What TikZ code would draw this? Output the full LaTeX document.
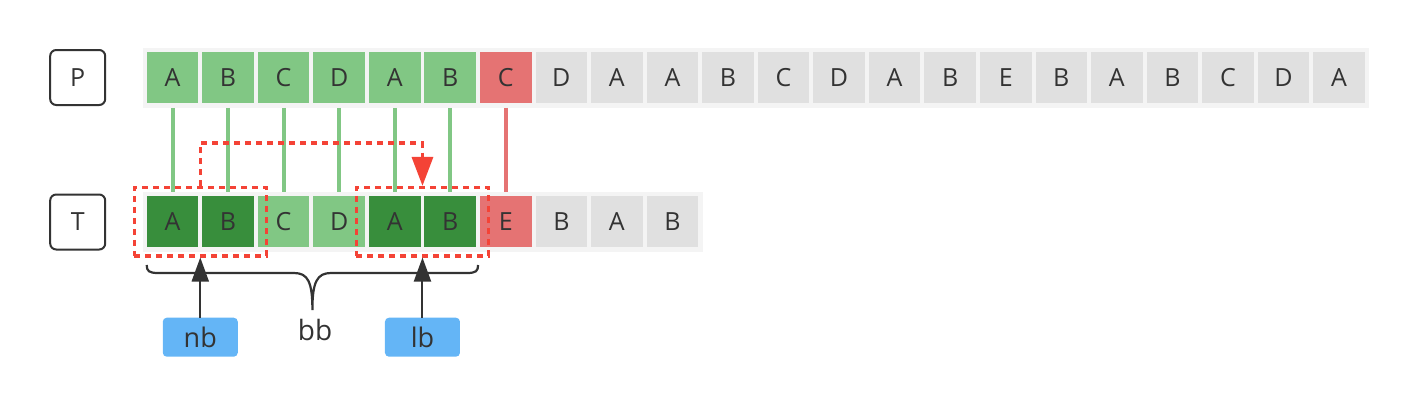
\documentclass[tikz,border=0pt]{standalone}
\usepackage{fontspec}
\setmainfont{Open Sans}
\usetikzlibrary{positioning,arrows.meta,fit,calc}

\definecolor{lgreen}{HTML}{81C784}
\definecolor{dgreen}{HTML}{388E3C}
\definecolor{lred}{HTML}{E57373}
\definecolor{cgray}{HTML}{E0E0E0}
\definecolor{stripgray}{HTML}{F4F4F4}
\definecolor{textgray}{HTML}{333333}
\definecolor{hitred}{HTML}{F44336}
\definecolor{ptrblue}{HTML}{64B5F6}

\begin{document}
\begin{tikzpicture}[
  x=1pt, y=-1pt,
  every node/.style={text=textgray, font=\fontsize{25}{30}\selectfont},
  cell/.style={fill=#1, minimum width=51.6pt, minimum height=51.3pt, inner sep=0pt, outer sep=0pt},
  strip/.style={fill=stripgray, inner sep=0pt, outer sep=0pt},
  tag/.style={draw=textgray, line width=2pt, rounded corners=6pt, fill=white, minimum width=55pt, minimum height=55pt},
  link/.style={line width=4pt, draw=#1, shorten <=4.4pt, shorten >=4.4pt},
  hit/.style={draw=hitred, line width=3.3pt, dash pattern=on 6pt off 5pt, inner xsep=12.5pt, inner ysep=8.5pt},
  jump/.style={draw=hitred, line width=3.3pt, dash pattern=on 6pt off 5pt, -{Triangle[length=29pt,width=21pt]}},
  ptr/.style={fill=ptrblue, rounded corners=4pt, minimum width=75pt, minimum height=39pt, font=\fontsize{27}{30}\selectfont},
  up/.style={-{Triangle[length=24pt,width=17pt]}, line width=2pt, draw=textgray},
  brace/.style={draw=textgray, line width=2.2pt}
]
\useasboundingbox (0,0) rectangle (1417,405);

% labels
\node[tag] (P) at (77.7,77.5) {P};
\node[tag, below=87.5pt of P] (T) {T};

% background strips
\node[strip, minimum width=1226.3pt, minimum height=59.7pt] (pstrip) at (755.9,77.9) {};
\node[strip, minimum width=560.3pt, minimum height=60pt] (tstrip) at (422.9,221.7) {};

% pattern row
\foreach \l/\c [count=\i] in {A/lgreen,B/lgreen,C/lgreen,D/lgreen,A/lgreen,B/lgreen,C/lred,D/cgray,A/cgray,A/cgray,B/cgray,C/cgray,D/cgray,A/cgray,B/cgray,E/cgray,B/cgray,A/cgray,B/cgray,C/cgray,D/cgray,A/cgray}
  \node[cell=\c] (p\i) at ({172.5+55.55*(\i-1)},77.7) {\l};

% text row
\foreach \l/\c [count=\i] in {A/dgreen,B/dgreen,C/lgreen,D/lgreen,A/dgreen,B/dgreen,E/lred,B/cgray,A/cgray,B/cgray}
  \node[cell=\c] (t\i) at ({172.5+55.55*(\i-1)},221.7) {\l};

% matches
\foreach \i in {1,...,6}
  \draw[link=lgreen] (p\i.south) -- (t\i.north);
\draw[link=lred] (p7.south) -- (t7.north);

% borders
\node[hit, fit=(t1)(t2)] (nbox) {};
\node[hit, fit=(t5)(t6)] (lbox) {};
\draw[jump] (nbox.north) -- ++(0,-43) -| (lbox.north);

% brace
\draw[brace] (146.7,265) .. controls (146.7,271) and (149,273) .. (158,273) -- (294,273)
  .. controls (308,273) and (312.4,282) .. (312.4,310)
  .. controls (312.4,282) and (317,273) .. (331,273) -- (467,273)
  .. controls (476,273) and (478.1,271) .. (478.1,265);
\node[font=\fontsize{28}{30}\selectfont] (bb) at (315,330) {bb};

% pointers
\node[ptr, below=60pt of nbox] (nb) {nb};
\node[ptr, below=60pt of lbox] (lb) {lb};
\draw[up] (nb) -- (nbox.south);
\draw[up] (lb) -- (lbox.south);
\end{tikzpicture}
\end{document}
